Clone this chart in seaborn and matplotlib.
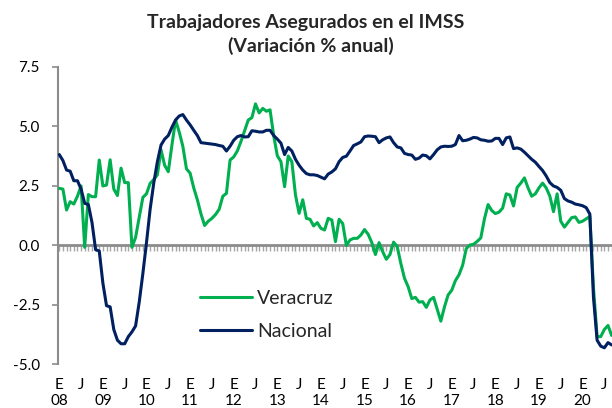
import numpy as np
import pandas as pd
import matplotlib
matplotlib.use("Agg")
import matplotlib.pyplot as plt
import seaborn as sns

# Monthly annual % change, Jan 2008 - Sep 2020
nacional = [
    3.8, 3.55, 3.15, 3.1, 2.7, 2.7, 2.35, 1.75, 1.7, 0.95,
    -0.2, -0.25, -1.6, -2.55, -2.6, -3.55, -4.0, -4.15, -4.15, -3.85,
    -3.65, -3.4, -2.4, -1.2, 0.1, 1.5, 2.6, 3.5, 4.2, 4.45,
    4.6, 4.95, 5.25, 5.42, 5.48, 5.25, 5.05, 4.82, 4.6, 4.3,
    4.28, 4.26, 4.24, 4.22, 4.18, 4.15, 3.95, 4.15, 4.4, 4.55,
    4.6, 4.54, 4.55, 4.8, 4.78, 4.75, 4.75, 4.82, 4.82, 4.6,
    4.45, 4.28, 3.8, 4.1, 3.95, 3.6, 3.35, 3.15, 3.0, 2.95,
    2.95, 2.92, 2.85, 2.78, 2.98, 3.07, 3.2, 3.5, 3.68, 3.73,
    3.95, 4.18, 4.25, 4.33, 4.55, 4.58, 4.57, 4.55, 4.3, 4.42,
    4.5, 4.54, 4.3, 4.12, 4.08, 3.85, 3.8, 3.78, 3.6, 3.65,
    3.78, 3.75, 3.62, 3.8, 4.0, 4.12, 4.15, 4.14, 4.15, 4.22,
    4.6, 4.38, 4.4, 4.45, 4.52, 4.5, 4.42, 4.4, 4.36, 4.37,
    4.48, 4.48, 4.22, 4.5, 4.54, 4.05, 4.08, 4.03, 3.9, 3.75,
    3.6, 3.48, 3.3, 3.13, 2.9, 2.62, 2.48, 2.42, 2.3, 1.95,
    1.85, 1.8, 1.72, 1.69, 1.65, 1.57, 1.3, -2.2, -4.0, -4.25,
    -4.32, -4.1, -4.2,
]
veracruz = [
    2.38, 2.35, 1.47, 1.82, 1.72, 2.05, 2.48, -0.1, 2.12, 2.03,
    2.03, 3.57, 2.48, 2.52, 3.58, 2.35, 2.08, 3.23, 2.62, 2.62,
    -0.1, 0.32, 1.15, 2.0, 2.15, 2.59, 2.75, 2.95, 4.0, 3.35,
    3.08, 4.2, 5.25, 4.75, 4.15, 3.2, 3.02, 2.4, 1.9, 1.3,
    0.82, 1.0, 1.12, 1.28, 1.5, 2.05, 2.17, 3.57, 3.7, 3.95,
    4.35, 4.8, 5.25, 5.35, 5.93, 5.55, 5.74, 5.62, 5.68, 4.6,
    3.75, 3.5, 2.45, 3.74, 3.5, 2.1, 1.33, 1.9, 1.12, 1.08,
    0.8, 0.94, 0.7, 0.63, 1.12, 1.05, 0.14, 1.08, 0.9, -0.02,
    0.21, 0.28, 0.28, 0.42, 0.65, 0.45, 0.1, -0.4, 0.1, -0.28,
    -0.6, -0.4, 0.12, -0.07, -0.78, -1.4, -1.75, -2.25, -2.2, -2.4,
    -2.38, -2.62, -2.31, -2.2, -2.7, -3.2, -2.6, -2.1, -1.9, -1.5,
    -1.25, -0.85, -0.15, 0.0, 0.03, 0.15, 0.3, 1.1, 1.7, 1.45,
    1.32, 1.38, 1.55, 2.15, 2.1, 1.64, 2.42, 2.6, 2.82, 2.4,
    2.05, 2.15, 2.4, 2.6, 2.4, 2.05, 1.4, 2.15, 1.0, 0.75,
    0.95, 1.15, 1.18, 0.95, 1.0, 1.1, 1.2, -1.8, -3.85, -3.85,
    -3.55, -3.38, -3.8,
]
years = ["08", "09", "10", "11", "12", "13", "14", "15", "16", "17", "18", "19", "20"]
series_names = ["Veracruz", "Nacional"]
colors = {"Veracruz": "#00B050", "Nacional": "#002060"}
y_ticks = [-5.0, -2.5, 0.0, 2.5, 5.0, 7.5]
title_lines = ["Trabajadores Asegurados en el IMSS", "(Variación % anual)"]

n = len(nacional)
months = np.arange(n)
df = pd.DataFrame({
    "mes": np.concatenate([months, months]),
    "valor": veracruz + nacional,
    "serie": ["Veracruz"] * n + ["Nacional"] * n,
})

sns.set_theme(style="white")
plt.rcParams["font.family"] = ["Lato", "DejaVu Sans"]

W, H = 612, 408
fig = plt.figure(figsize=(W / 100, H / 100), dpi=100)
ax = fig.add_axes([58 / W, 1 - 364 / H, (W - 58) / W, (364 - 66.5) / H])

sns.lineplot(data=df, x="mes", y="valor", hue="serie", hue_order=series_names,
             palette=colors, linewidth=2.2, ax=ax, zorder=3)

ax.set_xlim(-0.35, 152.1)
ax.set_ylim(-5, 7.5)
ax.set_yticks(y_ticks, labels=[f"{v:.1f}" for v in y_ticks])
ax.set_xlabel("")
ax.set_ylabel("")

axis_gray = "#8C8C8C"
for s in ["top", "right"]:
    ax.spines[s].set_visible(False)
ax.spines["left"].set_color(axis_gray)
ax.spines["left"].set_linewidth(1.5)
ax.spines["bottom"].set_position(("data", 0))
ax.spines["bottom"].set_color(axis_gray)
ax.spines["bottom"].set_linewidth(2.0)
ax.spines["bottom"].set_zorder(1)

ax.set_xticks(months, labels=[])
ax.tick_params(axis="x", direction="out", length=4, width=1.0, color="#A6A6A6", bottom=True)
ax.tick_params(axis="y", direction="out", length=4, width=1.2, color=axis_gray, left=True,
               labelsize=11, pad=9, labelcolor="black")

sec = ax.secondary_xaxis("bottom")
sec.spines["bottom"].set_visible(False)
pos = list(range(0, n, 6))
labs = [f"E\n{years[p // 12]}" if p % 12 == 0 else "J" for p in pos]
sec.set_xticks(pos, labels=labs)
sec.tick_params(axis="x", length=0, pad=10, labelsize=11, labelcolor="black")
for t in sec.get_xticklabels():
    t.set_verticalalignment("top")
    t.set_linespacing(1.15)

sns.move_legend(ax, loc="upper left", bbox_to_anchor=(200 / W, 1 - 290 / H),
                bbox_transform=fig.transFigure, frameon=False, title=None,
                fontsize=14, handlelength=2.68, handletextpad=0.26,
                labelspacing=0.8, borderpad=0, borderaxespad=0)
for line in ax.get_legend().get_lines():
    line.set_linewidth(2.2)

fig.text(306 / W, 1 - 28.3 / H, title_lines[0], ha="center", va="baseline",
         fontsize=14, fontweight="bold")
fig.text(311 / W, 1 - 52 / H, title_lines[1], ha="center", va="baseline",
         fontsize=14, fontweight="bold")

fig.savefig("out.png", dpi=100)
